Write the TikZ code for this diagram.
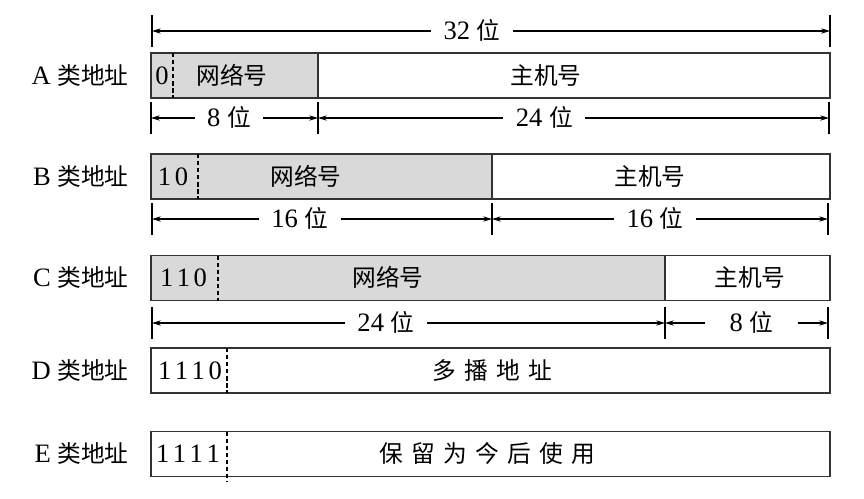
\documentclass[tikz,border=0pt]{standalone}
\usepackage{fontspec}
\setmainfont{Liberation Serif}[Scale=1.12]
\newfontfamily\cjk{Noto Sans CJK SC}
\usepackage{tikz}
\usetikzlibrary{arrows.meta, positioning}
\tikzstyle{netfield} = [rectangle, draw=black!80, fill=gray!30, line width=0.8pt, minimum height=0.9cm, inner sep=0pt, outer sep=0pt, anchor=west]
\tikzstyle{hostfield} = [netfield, fill=white]
\tikzstyle{divider} = [dash pattern=on 2.5pt off 1.5pt, line width=0.6pt]
\tikzstyle{rowlabel} = [anchor=east, inner sep=0pt, text height=0.95em, text depth=0.05em]
\tikzstyle{fieldtext} = [inner sep=0pt, text height=0.95em, text depth=0.05em]
\tikzstyle{dimarrow} = [line width=0.6pt, {Stealth[length=5pt,width=3pt]}-{Stealth[length=5pt,width=3pt]}]
\tikzstyle{dimtext} = [fill=white, inner xsep=0.25cm, inner ysep=1pt, text height=0.95em, text depth=0.05em]
\tikzstyle{tick} = [line width=0.7pt]
\newcommand{\bitgap}{\kern2pt}
\newcommand{\cjkgap}{\hspace{0.35em}}

\begin{document}
\begin{tikzpicture}[x=0.02cm, y=-0.02cm, font=\fontsize{13.5pt}{16pt}\selectfont]
	\useasboundingbox (0,0) rectangle (864,498);

	% 32 bits overall
	\coordinate (top0) at (152,31);
	\coordinate (top1) at (830,31);

	% class A
	\node (labA) [rowlabel] at (129,75.5) {A {\cjk 类地址}};
	\node (netA) [netfield, minimum width=3.34cm] at (151,75.5) {};
	\node (hostA) [hostfield, minimum width=10.24cm, right=0pt of netA] {};
	\draw [divider] ([xshift=0.44cm]netA.north west) -- ([xshift=0.44cm]netA.south west);
	\node (bitsA) [fieldtext] at (162,75.5) {0};
	\node (txtNetA) [fieldtext] at (232,75.5) {\cjk 网络号};
	\node (txtHostA) [fieldtext] at (546,75.5) {\cjk 主机号};
	\coordinate (dA0) at (151,118);
	\coordinate (dA1) at (318,118);
	\coordinate (dA2) at (829,118);

	% class B
	\node (labB) [rowlabel] at (129,176.5) {B {\cjk 类地址}};
	\node (netB) [netfield, minimum width=6.82cm] at (151,176.5) {};
	\node (hostB) [hostfield, minimum width=6.76cm, right=0pt of netB] {};
	\draw [divider] ([xshift=0.94cm]netB.north west) -- ([xshift=0.94cm]netB.south west);
	\node (bitsB) [fieldtext] at (173,176.5) {1\bitgap0};
	\node (txtNetB) [fieldtext] at (306,176.5) {\cjk 网络号};
	\node (txtHostB) [fieldtext] at (650,176.5) {\cjk 主机号};
	\coordinate (dB0) at (152,219);
	\coordinate (dB1) at (492,219);
	\coordinate (dB2) at (828,219);

	% class C
	\node (labC) [rowlabel] at (129,278) {C {\cjk 类地址}};
	\node (netC) [netfield, minimum width=10.28cm] at (151,278) {};
	\node (hostC) [hostfield, minimum width=3.30cm, right=0pt of netC] {};
	\draw [divider] ([xshift=1.34cm]netC.north west) -- ([xshift=1.34cm]netC.south west);
	\node (bitsC) [fieldtext] at (183.5,278) {1\bitgap1\bitgap0};
	\node (txtNetC) [fieldtext] at (388,278) {\cjk 网络号};
	\node (txtHostC) [fieldtext] at (750,278) {\cjk 主机号};
	\coordinate (dC0) at (152,323);
	\coordinate (dC1) at (665,323);
	\coordinate (dC2) at (828,323);

	% class D
	\node (labD) [rowlabel] at (129,370.5) {D {\cjk 类地址}};
	\node (fieldD) [hostfield, minimum width=13.58cm] at (151,370.5) {};
	\draw [divider] ([xshift=1.52cm]fieldD.north west) -- ([xshift=1.52cm]fieldD.south west);
	\node (bitsD) [fieldtext] at (190,370.5) {1\bitgap1\bitgap1\bitgap0};
	\node (txtD) [fieldtext] at (492,370.5) {\cjk 多\cjkgap 播\cjkgap 地\cjkgap 址};

	% class E
	\node (labE) [rowlabel] at (129,454) {E {\cjk 类地址}};
	\node (fieldE) [hostfield, minimum width=13.58cm] at (151,454) {};
	\draw [divider] ([xshift=1.52cm]fieldE.north west) -- ([xshift=1.52cm,yshift=-3pt]fieldE.south west);
	\node (bitsE) [fieldtext] at (188,454) {1\bitgap1\bitgap1\bitgap1};
	\node (txtE) [fieldtext] at (487,454) {\cjk 保\cjkgap 留\cjkgap 为\cjkgap 今\cjkgap 后\cjkgap 使\cjkgap 用};

	% ticks
	\foreach \c in {top0,top1,dA0,dA1,dA2,dB0,dB1,dB2,dC0,dC1,dC2}
		\draw [tick] (\c) ++(0,-16) -- ++(0,32);

	% bit widths
	\draw [dimarrow] (top0) -- node[dimtext, pos=0.472] {32 {\cjk 位}} (top1);
	\draw [dimarrow] (dA0) -- node[dimtext, pos=0.467] {8 {\cjk 位}} (dA1);
	\draw [dimarrow] (dA1) -- node[dimtext, pos=0.443] {24 {\cjk 位}} (dA2);
	\draw [dimarrow] (dB0) -- node[dimtext, pos=0.435] {16 {\cjk 位}} (dB1);
	\draw [dimarrow] (dB1) -- node[dimtext, pos=0.485] {16 {\cjk 位}} (dB2);
	\draw [dimarrow] (dC0) -- node[dimtext, pos=0.456] {24 {\cjk 位}} (dC1);
	\draw [dimarrow] (dC1) -- node[dimtext, pos=0.53, inner xsep=0.5cm] {8 {\cjk 位}} (dC2);
\end{tikzpicture}
\end{document}
